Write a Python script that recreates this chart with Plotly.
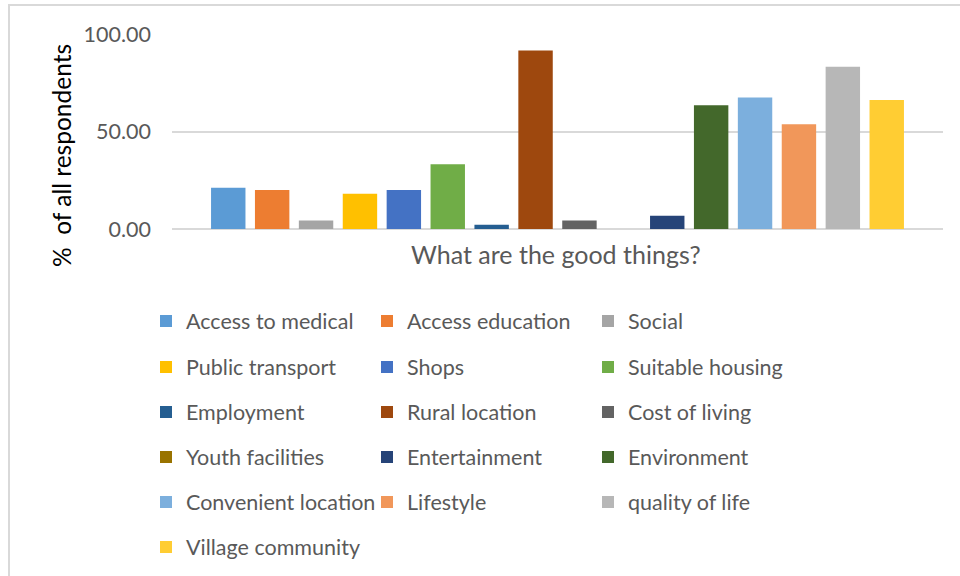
import plotly.graph_objects as go

# Survey answers: share of all respondents naming each "good thing"
categories = ["What are the good things?"]
series_names = [
    "Access to medical", "Access education", "Social",
    "Public transport", "Shops", "Suitable housing",
    "Employment", "Rural location", "Cost of living",
    "Youth facilities", "Entertainment", "Environment",
    "Convenient location", "Lifestyle", "quality of life",
    "Village community",
]
series_values = [
    21.2, 20.0, 4.3,
    18.1, 20.0, 33.2,
    2.2, 91.6, 4.3,
    0.0, 6.8, 63.4,
    67.5, 53.7, 83.2,
    66.2,
]
series_colors = [
    "#5B9BD5", "#ED7D31", "#A5A5A5",
    "#FFC000", "#4472C4", "#70AD47",
    "#255E91", "#9E480E", "#636363",
    "#997300", "#264478", "#43682B",
    "#7CAFDD", "#F1975A", "#B7B7B7",
    "#FFCD33",
]
y_ticks = [0, 50, 100]
y_tick_labels = ["0.00", "50.00", "100.00"]

W, H = 960, 576
L, R, T, B = 172, 943, 34, 229  # plot area in pixels
FONT = "Lato"
GREY = "#595959"

fig = go.Figure()

legend_keys = ["legend", "legend2", "legend3", "legend4", "legend5", "legend6"]
for i, (name, val, col) in enumerate(zip(series_names, series_values, series_colors)):
    fig.add_trace(go.Bar(
        x=categories, y=[val], name=name,
        marker=dict(color=col, line=dict(width=0)),
        legend=legend_keys[i // 3],
    ))

# one legend per row, three entries each
row_y = [321, 367, 412, 457, 502, 547]
legend_layout = {}
for k, key in enumerate(legend_keys):
    legend_layout[key] = dict(
        orientation="h",
        xref="container", yref="container",
        x=146 / W, y=1 - row_y[k] / H,
        xanchor="left", yanchor="middle",
        entrywidth=176, entrywidthmode="pixels",
        font=dict(family=FONT, size=21.5, color=GREY),
        bgcolor="rgba(0,0,0,0)", borderwidth=0,
        traceorder="normal",
    )

fig.update_layout(
    width=W, height=H,
    margin=dict(l=L, r=W - R, t=T, b=H - B, pad=0),
    paper_bgcolor="white", plot_bgcolor="white",
    barmode="group", bargap=0.089, bargroupgap=0.216,
    showlegend=True,
    font=dict(family=FONT, color=GREY),
    xaxis=dict(
        type="category", showticklabels=False, showgrid=False,
        showline=False, zeroline=False, ticks="",
    ),
    yaxis=dict(
        range=[0, 100], tickvals=y_ticks, ticktext=y_tick_labels,
        showgrid=True, gridcolor="#D9D9D9", gridwidth=1.5,
        zeroline=True, zerolinecolor="#D9D9D9", zerolinewidth=1.5,
        showline=False, ticks="", ticklabelstandoff=20,
        tickfont=dict(family=FONT, size=21.5, color=GREY),
    ),
    **legend_layout,
)

# x-axis title
fig.add_annotation(
    text=categories[0],
    xref="paper", yref="paper",
    x=(556 - L) / (R - L), y=(B - 254) / (B - T),
    xanchor="center", yanchor="middle", showarrow=False,
    font=dict(family=FONT, size=25, color=GREY),
)

# y-axis title
fig.add_annotation(
    text="%  of all respondents", textangle=-90,
    xref="paper", yref="paper",
    x=(61 - L) / (R - L), y=(B - 156) / (B - T),
    xanchor="center", yanchor="middle", showarrow=False,
    font=dict(family=FONT, size=24.5, color="black"),
)

# chart frame
fig.add_shape(
    type="rect", xref="paper", yref="paper",
    x0=(9 - L) / (R - L), x1=(965 - L) / (R - L),
    y0=(B - 582) / (B - T), y1=(B - 5) / (B - T),
    line=dict(color="#D9D9D9", width=2), fillcolor="rgba(0,0,0,0)",
    layer="below",
)

fig.write_html("out.html")
